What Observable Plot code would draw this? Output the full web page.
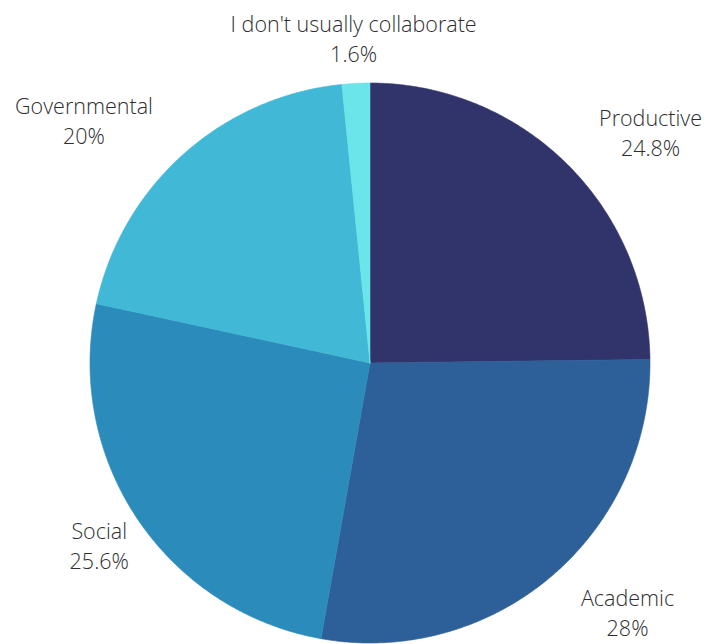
<!DOCTYPE html>
<html>
<head>
<meta charset="utf-8">
<script src="https://cdn.jsdelivr.net/npm/d3@7"></script>
<script src="https://cdn.jsdelivr.net/npm/@observablehq/plot@0.6"></script>
<style>
  html, body { margin: 0; padding: 0; background: #fff; }
  #chart svg { display: block; }
</style>
</head>
<body>
<div id="chart"></div>
<script>
// ---- data ----
const categories = ["Productive", "Academic", "Social", "Governmental", "I don't usually collaborate"];
const values = [24.8, 28, 25.6, 20, 1.6];
const colors = ["#31346b", "#2d5f99", "#2b8bba", "#41b8d6", "#6be4ea"];

// ---- layout config ----
const W = 707, H = 644;
const cx = 369.5, cy = 362.5, R = 280;           // pixel centre & radius
const fontSize = 21.5, lineH = 30;
const labelR = 326 / R, clearR = 282 / R;

const total = d3.sum(values);
let acc = 0;
const slices = categories.map((c, i) => {
  const a0 = acc / total * 2 * Math.PI;
  acc += values[i];
  const a1 = acc / total * 2 * Math.PI;
  return {key: c, value: values[i], a0, a1};
});

// polygon points for each slice (unit radius, clockwise from top)
const pts = [];
for (const s of slices) {
  pts.push({key: s.key, x: 0, y: 0});
  const n = Math.max(2, Math.ceil((s.a1 - s.a0) / (Math.PI / 360)));
  for (let j = 0; j <= n; j++) {
    const a = s.a0 + (s.a1 - s.a0) * j / n;
    pts.push({key: s.key, x: Math.sin(a), y: Math.cos(a)});
  }
  pts.push({key: s.key, x: 0, y: 0});
}

// labels
const ctx = document.createElement("canvas").getContext("2d");
ctx.font = `300 ${fontSize}px 'Open Sans'`;
const labels = slices.map(s => {
  const pct = `${s.value}%`;
  const w = Math.max(ctx.measureText(s.key).width, ctx.measureText(pct).width) / R;
  const h = (2 * lineH) / R;
  const m = (s.a0 + s.a1) / 2;
  let x = labelR * Math.sin(m), y = labelR * Math.cos(m);
  // nearest point of the label box to the pie centre
  const nx = Math.max(x - w / 2, Math.min(0, x + w / 2));
  const ny = Math.max(y - h / 2, Math.min(0, y + h / 2));
  if (Math.hypot(nx, ny) < clearR) x += Math.sign(Math.sin(m)) * w / 2;
  // keep the label box inside the frame
  const xmin = -cx / R + w / 2 + 4 / R, xmax = (W - cx) / R - w / 2 - 2 / R;
  x = Math.max(xmin, Math.min(xmax, x));
  return {x, y, text: `${s.key}\n${pct}`};
});

const chart = Plot.plot({
  width: W,
  height: H,
  margin: 0,
  style: {background: "#fff"},
  x: {domain: [-cx / R, (W - cx) / R], axis: null},
  y: {domain: [-(H - cy) / R, cy / R], axis: null},
  color: {domain: categories, range: colors},
  marks: [
    Plot.line(pts, {x: "x", y: "y", z: "key", fill: "key", stroke: "key", strokeWidth: 0.6, curve: "linear"}),
    Plot.text(labels, {
      x: "x", y: "y", text: "text",
      fontSize, fontWeight: 300, fontFamily: "'Open Sans', sans-serif",
      fill: "#2e2e2e", lineHeight: lineH / fontSize,
      textAnchor: "middle", lineAnchor: "middle"
    })
  ]
});
document.getElementById("chart").appendChild(chart);
</script>
</body>
</html>
